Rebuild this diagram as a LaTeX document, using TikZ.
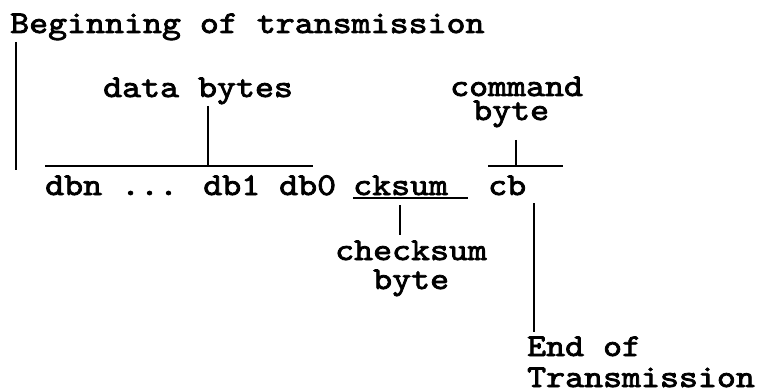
\documentclass[tikz,border=0pt]{standalone}
\usepackage{fontspec}
% slab-serif typewriter face, widened and thickened
\font\courfont="[lmmono10-regular]:extend=1.14;embolden=2.5" at 31.7pt
\begin{document}
\begin{tikzpicture}[x=1pt,y=-1pt,
  lbl/.style={anchor=base west,inner sep=0pt,font=\courfont},
  wire/.style={line width=2.2pt}]
\useasboundingbox (0,0) rectangle (762,390);
% text labels
\node[lbl] (begin) at (10,33) {Beginning of transmission};
\node[lbl] (databytes) at (103,97) {data bytes};
\node[lbl] (stream) at (45,195) {dbn ... db1 db0};
\node[lbl] (cksum) at (353,195) {cksum};
\node[lbl] (cb) at (488,195) {cb};
\node[lbl] (command) at (450,96) {command};
\node[lbl] (cmdbyte) at (473,120) {byte};
\node[lbl] (checksum) at (335,260) {checksum};
\node[lbl] (ckbyte) at (373,289) {byte};
\node[lbl] (endof) at (527,356) {End of};
\node[lbl] (transmission) at (527,387) {Transmission};
% connector end points
\coordinate (bt) at (16,42);
\coordinate (bb) at (16,170);
\coordinate (dbl) at (45,166);
\coordinate (dbr) at (313,166);
\coordinate (dbt) at (208,106);
\coordinate (dbm) at (208,166);
\coordinate (ckl) at (353,198);
\coordinate (ckr) at (468,198);
\coordinate (ckt) at (400,205);
\coordinate (ckb) at (400,235);
\coordinate (cbl) at (488,166);
\coordinate (cbr) at (563,166);
\coordinate (cbt) at (516,140);
\coordinate (cbm) at (516,166);
\coordinate (eot) at (534,203);
\coordinate (eob) at (534,332);
% connectors
\draw[wire] (bt) -- (bb);
\draw[wire] (dbl) -- (dbr);
\draw[wire] (dbt) -- (dbm);
\draw[wire] (ckl) -- (ckr);
\draw[wire] (ckt) -- (ckb);
\draw[wire] (cbl) -- (cbr);
\draw[wire] (cbt) -- (cbm);
\draw[wire] (eot) -- (eob);
\end{tikzpicture}
\end{document}
